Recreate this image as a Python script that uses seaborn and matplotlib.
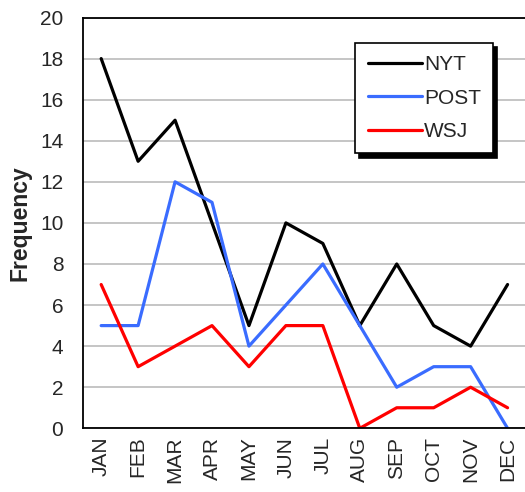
import matplotlib
matplotlib.use("Agg")
import matplotlib.pyplot as plt
import seaborn as sns
import pandas as pd
import numpy as np

months = ["JAN", "FEB", "MAR", "APR", "MAY", "JUN", "JUL", "AUG", "SEP", "OCT", "NOV", "DEC"]
nyt = [18, 13, 15, 10, 5, 10, 9, 5, 8, 5, 4, 7]
post = [5, 5, 12, 11, 4, 6, 8, 5, 2, 3, 3, 0]
wsj = [7, 3, 4, 5, 3, 5, 5, 0, 1, 1, 2, 1]
series_names = ["NYT", "POST", "WSJ"]
colors = {"NYT": "#000000", "POST": "#3a6cff", "WSJ": "#ff0000"}

rows = []
for name, vals in zip(series_names, [nyt, post, wsj]):
    for i, v in enumerate(vals):
        rows.append({"pos": i, "month": months[i], "paper": name, "value": v})
df = pd.DataFrame(rows)

sns.set_style("white")
plt.rcParams["font.family"] = ["Liberation Sans", "DejaVu Sans"]

fig = plt.figure(figsize=(5.25, 4.92), dpi=100)
ax = fig.add_axes([82.7 / 525, 1 - 428.3 / 492, 1 - 82.7 / 525 + 0.002, (428.3 - 17.5) / 492])

sns.lineplot(data=df, x="pos", y="value", hue="paper", palette=colors,
             hue_order=series_names, linewidth=2.3, ax=ax, legend=True)

ax.set_xlim(-0.5, 11.5)
ax.set_ylim(0, 20)
ax.set_yticks(np.arange(0, 21, 2))
ax.yaxis.grid(True, color="#c0c0c0", linewidth=1.3)
ax.set_axisbelow(True)
ax.set_xticks(range(12))
ax.set_xticklabels(months, rotation=90, fontsize=15)
ax.set_xticks(np.arange(-0.5, 12, 1), minor=True)
ax.tick_params(axis="x", which="major", length=0, pad=6)
ax.tick_params(axis="x", which="minor", length=6, width=1.2, direction="out", color="black")
ax.tick_params(axis="y", length=6, width=1.2, direction="out", color="black", labelsize=15, pad=8)
ax.set_xlabel("")
ax.set_ylabel("Frequency", fontsize=16.5, fontweight="bold", labelpad=6)

for s in ["left", "bottom", "top"]:
    ax.spines[s].set_visible(True)
    ax.spines[s].set_color("black")
    ax.spines[s].set_linewidth(1.3)
ax.spines["right"].set_visible(False)

handles, labels = ax.get_legend_handles_labels()
leg = ax.legend(handles, labels, loc="upper left",
                bbox_to_anchor=(355 / 525, 1 - 43 / 492), bbox_transform=fig.transFigure,
                borderaxespad=0, frameon=True, fancybox=False, fontsize=15,
                shadow={"color": "black", "alpha": 1.0, "ox": 3, "oy": -3},
                handlelength=2.6, handletextpad=0.1, labelspacing=0.68,
                borderpad=0.6)
leg.get_frame().set_edgecolor("black")
leg.get_frame().set_linewidth(1.2)
leg.get_frame().set_alpha(1)

fig.savefig("out.png", dpi=100)
